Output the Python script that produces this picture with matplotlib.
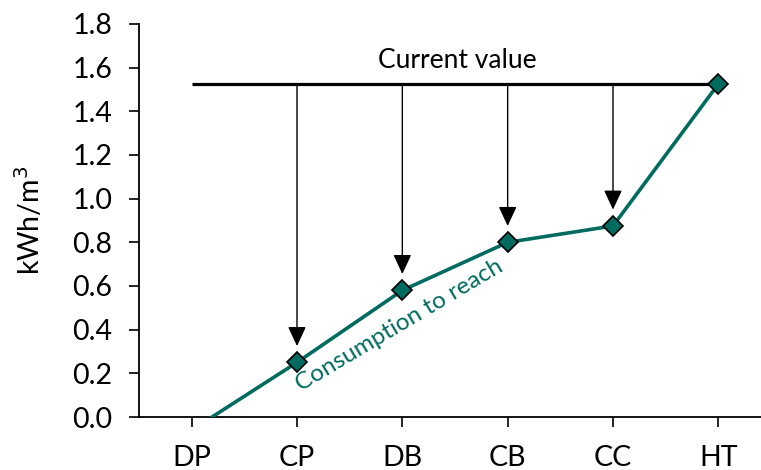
import numpy as np
import matplotlib
matplotlib.use("Agg")
import matplotlib.pyplot as plt

# Data
categories = ["DP", "CP", "DB", "CB", "CC", "HT"]
consumption = [-0.06, 0.25, 0.58, 0.80, 0.875, 1.525]
current_value = 1.525
arrow_targets = ["CP", "DB", "CB", "CC"]

teal = "#006b5e"
plt.rcParams["font.family"] = ["Lato", "DejaVu Sans"]

fig = plt.figure(figsize=(7.61, 4.70), dpi=100)
ax = fig.add_axes([139 / 761, 1 - 417 / 470, 632 / 761, (417 - 24) / 470])

x = np.arange(len(categories))

# current value line
ax.plot([x[0], x[-1]], [current_value, current_value], color="black", lw=2.3,
        solid_capstyle="butt", zorder=2)
ax.text(2.52, 1.635, "Current value", ha="center", va="center", fontsize=19)

# arrows from current value down to each target point
for cat in arrow_targets:
    i = categories.index(cat)
    ax.annotate("", xy=(x[i], consumption[i] + 0.075), xytext=(x[i], current_value),
                arrowprops=dict(arrowstyle="-|>,head_length=0.6,head_width=0.28",
                                mutation_scale=20, color="black", lw=1.0,
                                shrinkA=0, shrinkB=0), zorder=3)

# consumption line
ax.plot(x, consumption, color=teal, lw=2.6, marker="D", markersize=10,
        markerfacecolor=teal, markeredgecolor="black", markeredgewidth=1.2, zorder=4)
ax.text(1.97, 0.42, "Consumption to reach", color=teal, fontsize=17.5,
        rotation=30.8, ha="center", va="center", rotation_mode="anchor")

ax.set_xlim(-0.5, 5.5)
ax.set_ylim(0, 1.8)
ax.set_yticks(np.arange(0, 1.81, 0.2))
ax.set_yticklabels([f"{v:.1f}" for v in np.arange(0, 1.81, 0.2)])
ax.set_xticks(x)
ax.set_xticklabels(categories)
ax.tick_params(axis="both", labelsize=20.5, length=7, width=1.2, color="black")
ax.tick_params(axis="x", pad=13)
ax.tick_params(axis="y", pad=12)
ax.set_ylabel("kWh/m$^3$", fontsize=20.5, labelpad=20)

for side in ["top", "right"]:
    ax.spines[side].set_visible(False)
for side in ["left", "bottom"]:
    ax.spines[side].set_linewidth(1.3)

fig.savefig("out.png", dpi=100)
